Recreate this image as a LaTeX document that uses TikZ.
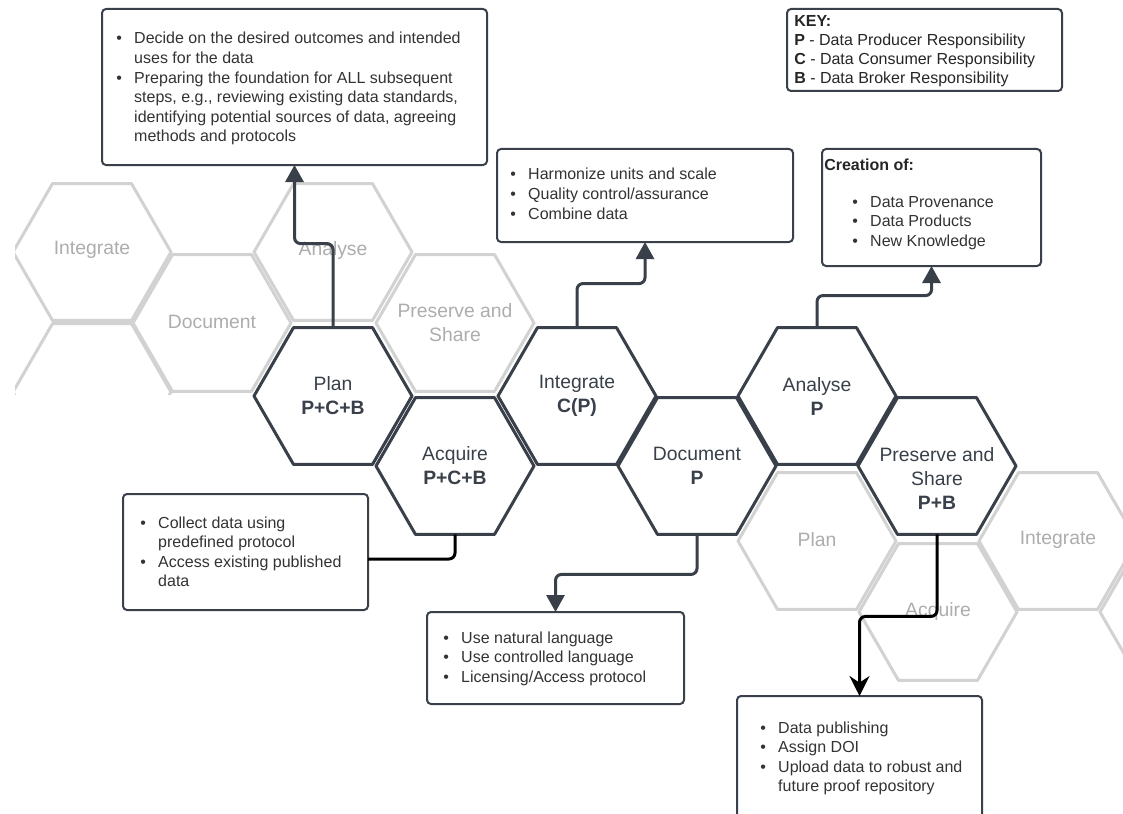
\documentclass[tikz,border=0pt]{standalone}
\usepackage{fontspec}
\setmainfont{Liberation Sans}
\usetikzlibrary{shapes.geometric,arrows.meta}
\definecolor{dk}{HTML}{394049}
\definecolor{gh}{HTML}{D2D2D2}
\definecolor{ghtxt}{HTML}{ADADAD}
\definecolor{txt}{HTML}{333333}
\newcommand{\itm}{\makebox[13.4pt][l]{\textbullet}}
\newcommand{\cnt}{\hspace*{13.4pt}}
\tikzset{
  hexbase/.style={regular polygon, regular polygon sides=6, minimum size=118.5pt,
    inner sep=0pt, outer sep=0pt, line width=2.25pt, line join=round,
    align=center, font=\fontsize{14.5pt}{18pt}\selectfont},
  hexdark/.style={hexbase, draw=dk, fill=white, text=dk},
  hexghost/.style={hexbase, draw=gh},
  ghostlbl/.style={align=center, inner sep=0pt, text=ghtxt,
    font=\fontsize{14.5pt}{18pt}\selectfont},
  callout/.style={draw=dk, line width=1.5pt, rounded corners=3pt, fill=white,
    inner sep=0pt, outer sep=0pt, anchor=north west},
  boxtxt/.style={anchor=base west, inner sep=0pt, text=txt,
    font=\fontsize{12pt}{14.7pt}\selectfont},
  keytxt/.style={anchor=base west, inner sep=0pt, text=black!85,
    font=\fontsize{12pt}{14.25pt}\selectfont},
  darkarrow/.style={draw=dk, line width=2.25pt, rounded corners=4.5pt,
    -{Triangle[length=12.75pt,width=13.5pt]}},
  blackline/.style={draw=black, line width=2.25pt, rounded corners=4.5pt},
  blackarrow/.style={blackline, -{Stealth[length=15pt,width=15pt,inset=5pt]}}
}
\begin{document}
\begin{tikzpicture}[x=0.75pt,y=-0.75pt]
\useasboundingbox (0,0) rectangle (1123,813);
\fill[white] (0,0) rectangle (1123,813);

% ghost hexagons, upper left
\begin{scope}
  \clip (15,170) rectangle (560,394);
  \node[hexghost] (gint) at (92,252) {};
  \node[hexghost] (gana) at (333,252) {};
  \node[hexghost] (gdoc) at (212,323) {};
  \node[hexghost] (gpres) at (455,323) {};
  \node[hexghost] (gpart) at (92,392) {};
  \node[ghostlbl] (gintlbl) at (92,250) {Integrate};
  \node[ghostlbl] (ganalbl) at (333,250) {Analyse};
  \node[ghostlbl] (gdoclbl) at (212,322) {Document};
  \node[ghostlbl] (gpreslbl) at (455,323) {Preserve and\\Share};
\end{scope}

% ghost hexagons, lower right
\node[hexghost] (gplan) at (817,541) {};
\node[hexghost] (gacq) at (938,612) {};
\node[hexghost] (gint2) at (1058,541) {};
\node[hexghost] (gpart2) at (1179,612) {};
\node[ghostlbl] (gplanlbl) at (817,540) {Plan};
\node[ghostlbl] (gacqlbl) at (938,611) {Acquire};
\node[ghostlbl] (gint2lbl) at (1058,540) {Integrate};

% main hexagons
\node[hexdark] (plan) at (333,396) {Plan\\\textbf{P+C+B}};
\node[hexdark] (acquire) at (455,466) {Acquire\\\textbf{P+C+B}};
\node[hexdark] (integrate) at (577,396) {Integrate\\\textbf{C(P)}};
\node[hexdark] (document) at (697,466) {Document\\\textbf{P}};
\node[hexdark] (analyse) at (817,396) {Analyse\\\textbf{P}};
\node[hexdark] (preserve) at (937,466) {};
\node[align=center, text=dk, inner sep=0pt, font=\fontsize{14.5pt}{18pt}\selectfont]
  (preservelbl) at (937,478) {Preserve and\\Share\\\textbf{P+B}};

% callout boxes
\node[callout, minimum width=385*0.75pt, minimum height=156*0.75pt] (planbox) at (102,9) {};
\node[callout, minimum width=275*0.75pt, minimum height=82*0.75pt] (keybox) at (787,9) {};
\node[callout, minimum width=296*0.75pt, minimum height=93*0.75pt] (intbox) at (497,149) {};
\node[callout, minimum width=219*0.75pt, minimum height=117*0.75pt] (crebox) at (822,149) {};
\node[callout, minimum width=245*0.75pt, minimum height=116*0.75pt] (acqbox) at (123,494) {};
\node[callout, minimum width=257*0.75pt, minimum height=92*0.75pt] (docbox) at (427,612) {};
\node[callout, minimum width=245*0.75pt, minimum height=130*0.75pt] (presbox) at (737,696) {};

% box texts
\node[boxtxt] (plantxt) at (116.1,44) {\begin{tabular}[t]{@{}l@{}}
\itm Decide on the desired outcomes and intended\\
\cnt uses for the data\\
\itm Preparing the foundation for ALL subsequent\\
\cnt steps, e.g., reviewing existing data standards,\\
\cnt identifying potential sources of data, agreeing\\
\cnt methods and protocols\end{tabular}};

\node[keytxt] (keytext) at (794,27) {\begin{tabular}[t]{@{}l@{}}
\textbf{KEY:}\\
\textbf{P} - Data Producer Responsibility\\
\textbf{C} - Data Consumer Responsibility\\
\textbf{B} - Data Broker Responsibility\end{tabular}};

\node[boxtxt] (inttxt) at (510.1,180) {\begin{tabular}[t]{@{}l@{}}
\itm Harmonize units and scale\\
\itm Quality control/assurance\\
\itm Combine data\end{tabular}};

\node[boxtxt, text=black!85] (cretitle) at (824,171) {\textbf{Creation of:}};
\node[boxtxt] (cretxt) at (852.1,207) {\begin{tabular}[t]{@{}l@{}}
\itm Data Provenance\\
\itm Data Products\\
\itm New Knowledge\end{tabular}};

\node[boxtxt] (acqtxt) at (140.1,528) {\begin{tabular}[t]{@{}l@{}}
\itm Collect data using\\
\cnt predefined protocol\\
\itm Access existing published\\
\cnt data\end{tabular}};

\node[boxtxt] (doctxt) at (443.1,643) {\begin{tabular}[t]{@{}l@{}}
\itm Use natural language\\
\itm Use controlled language\\
\itm Licensing/Access protocol\end{tabular}};

\node[boxtxt] (prestxt) at (760.1,733) {\begin{tabular}[t]{@{}l@{}}
\itm Data publishing\\
\itm Assign DOI\\
\itm Upload data to robust and\\
\cnt future proof repository\end{tabular}};

% connectors
\draw[darkarrow] (plan.north) -- ++(0,-84) -| (planbox.south);
\draw[darkarrow] (integrate.north) -- ++(0,-44) -| (intbox.south);
\draw[darkarrow] (analyse.north) -- ++(0,-32) -| (crebox.south);
\draw[darkarrow] (document.south) -- ++(0,40) -| (docbox.north);
\draw[blackline] (acquire.south) |- ([yshift=-5.25pt]acqbox.east);
\draw[blackarrow] (preserve.south) -- ++(0,82) -| (presbox.north);
\end{tikzpicture}
\end{document}
